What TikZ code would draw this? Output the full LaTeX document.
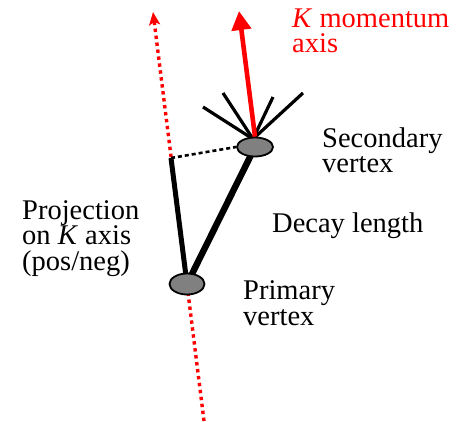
\documentclass[tikz,border=0pt]{standalone}
\usepackage{fontspec}
\setmainfont{Liberation Serif}
\usetikzlibrary{arrows.meta,shapes.geometric,backgrounds}
\begin{document}
\begin{tikzpicture}[x=1pt,y=-1pt,
  lbl/.style={anchor=base west, inner sep=0pt, align=left, font=\fontsize{28.5}{25.5}\selectfont},
  vtx/.style={ellipse, draw=black, line width=1.8pt, fill=black!50, inner sep=0pt},
  axisline/.style={red, line width=3.4pt, dash pattern=on 3.4pt off 3.6pt, -{Stealth[length=13pt,width=11pt,inset=3pt]}},
  kaxis/.style={red, line width=4.6pt, -{Triangle[length=19pt,width=19pt]}},
  track/.style={black, line width=3.2pt},
  thickline/.style={black, line width=6.4pt},
  projline/.style={black, line width=5pt},
  dashline/.style={black, line width=2.6pt, dash pattern=on 4pt off 3pt}
]
\useasboundingbox (0,0) rectangle (460,422);
\node[vtx, minimum width=35pt, minimum height=21pt] (pv) at (187,284) {};
\node[vtx, minimum width=36pt, minimum height=19pt] (sv) at (255,147) {};
\coordinate (pt) at (171,158);
\coordinate (axb) at (204,421);
\coordinate (axt) at (153,12);
\coordinate (kt) at (239,11);
\coordinate (f1) at (203,107);
\coordinate (f2) at (223,93);
\coordinate (f3) at (273,97);
\coordinate (f4) at (303,93);
\coordinate (fo) at (253,139);
\begin{scope}[on background layer]
\draw[axisline] (axb) -- (axt);
\draw[track] (fo) -- (f1);
\draw[track] (fo) -- (f2);
\draw[track] (fo) -- (f3);
\draw[track] (fo) -- (f4);
\draw[thickline] (pv.center) -- (sv.center);
\draw[projline] (pv.center) -- (pt);
\end{scope}
\draw[dashline] (pt) -- (sv.west);
\draw[kaxis] (sv.north) -- (kt);
\node[lbl, text=red] (kl) at (292,53) {\textit{K} momentum\\axis};
\node[lbl] (svl) at (322,173) {Secondary\\vertex};
\node[lbl] (dl) at (272,232) {Decay length};
\node[lbl] (pvl) at (243,325) {Primary\\vertex};
\node[lbl] (pjl) at (22,270) {Projection\\on \textit{K} axis\\(pos/neg)};
\end{tikzpicture}
\end{document}
